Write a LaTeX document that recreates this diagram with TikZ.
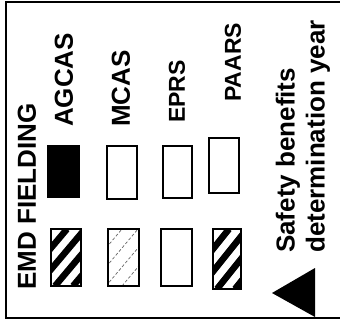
\documentclass[tikz,border=0pt]{standalone}
\usepackage{fontspec}
\setmainfont{Liberation Sans}
\usetikzlibrary{positioning}

\begin{document}
\begin{tikzpicture}[x=1pt, y=-1pt,
  lbl/.style={font=\fontsize{26}{30}\selectfont\bfseries, rotate=90,
              anchor=west, inner sep=0pt},
  small/.style={font=\fontsize{23}{30}\selectfont\bfseries},
  swatch/.style={draw, line width=2.4pt},
  stripe/.style={line width=6.5pt},
  faint/.style={line width=0.7pt, densely dashed, black!60}
]
\useasboundingbox (0,0) rectangle (340,326);

% ===== frame =====
\draw[line width=2pt] (340,2) -- (6,2) -- (6,318) -- (340,318);

% ===== labels =====
\node[lbl] (fld)   at (27,290)  {EMD FIELDING};
\node[lbl] (agcas) at (64,127)  {AGCAS};
\node[lbl] (mcas)  at (121,127) {MCAS};
\node[lbl, small] (eprs)  at (177,123) {EPRS};
\node[lbl, small] (paars) at (233,102) {PAARS};
\node[lbl, align=left] (note) at (303,253)
      {Safety benefits\\determination year};

% ===== upper swatches =====
\fill[swatch, fill=black] (48,146) rectangle (79,197);
\draw[swatch] (107,146) rectangle (137,199);
\draw[swatch] (163,146) rectangle (192,198);
\draw[swatch] (209,138) rectangle (239,193);

% ===== lower swatches =====
% AGCAS: heavy stripes
\begin{scope}[shift={(51,229)}]
  \clip (0,0) rectangle (30,57);
  \foreach \k in {-50,-32,...,40} \draw[stripe] (\k,57) -- (\k+48,0);
\end{scope}
\draw[swatch] (51,229) rectangle (81,286);

% MCAS: faint stripes
\begin{scope}[shift={(108,229)}]
  \clip (0,0) rectangle (31,57);
  \foreach \k in {-50,-34,...,40} \draw[faint] (\k,57) -- (\k+48,0);
\end{scope}
\draw[swatch] (108,229) rectangle (139,286);

% EPRS: empty
\draw[swatch] (161,229) rectangle (192,286);

% PAARS: heavy stripes
\begin{scope}[shift={(213,229)}]
  \clip (0,0) rectangle (28,60);
  \foreach \k in {-50,-32,...,40} \draw[stripe] (\k,60) -- (\k+48,0);
\end{scope}
\draw[swatch] (213,229) rectangle (241,289);

% ===== marker =====
\fill (272,293) -- (315,268) -- (315,317) -- cycle;

\end{tikzpicture}
\end{document}
